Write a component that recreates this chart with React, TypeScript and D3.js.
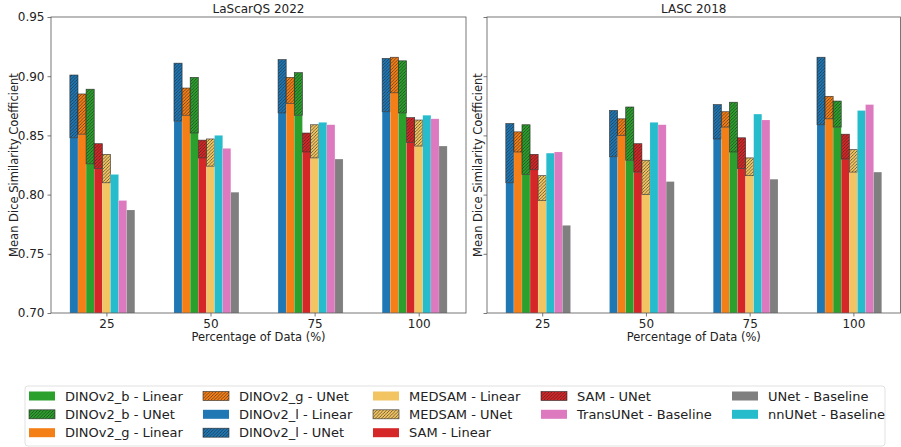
import { useEffect, useRef } from 'react';
import * as d3 from 'd3';

// x categories
const percentages = ['25', '50', '75', '100'];
const yTicks = [0.7, 0.75, 0.8, 0.85, 0.9, 0.95];

// LaScarQS 2022
const lasDinoLLinear = [0.848, 0.862, 0.869, 0.870];
const lasDinoGLinear = [0.851, 0.867, 0.877, 0.886];
const lasDinoBLinear = [0.826, 0.852, 0.867, 0.869];
const lasSamLinear = [0.822, 0.831, 0.836, 0.844];
const lasMedsamLinear = [0.810, 0.824, 0.831, 0.841];
const lasDinoLUNet = [0.901, 0.911, 0.914, 0.915];
const lasDinoGUNet = [0.885, 0.890, 0.899, 0.916];
const lasDinoBUNet = [0.889, 0.899, 0.903, 0.913];
const lasSamUNet = [0.843, 0.846, 0.852, 0.865];
const lasMedsamUNet = [0.834, 0.847, 0.859, 0.863];
const lasNnUNet = [0.817, 0.850, 0.861, 0.867];
const lasTransUNet = [0.795, 0.839, 0.859, 0.864];
const lasUNet = [0.787, 0.802, 0.830, 0.841];

// LASC 2018
const lascDinoLLinear = [0.810, 0.832, 0.847, 0.859];
const lascDinoGLinear = [0.836, 0.850, 0.857, 0.864];
const lascDinoBLinear = [0.817, 0.829, 0.836, 0.857];
const lascSamLinear = [0.821, 0.819, 0.822, 0.830];
const lascMedsamLinear = [0.795, 0.800, 0.816, 0.819];
const lascDinoLUNet = [0.860, 0.871, 0.876, 0.916];
const lascDinoGUNet = [0.853, 0.864, 0.870, 0.883];
const lascDinoBUNet = [0.859, 0.874, 0.878, 0.879];
const lascSamUNet = [0.834, 0.843, 0.848, 0.851];
const lascMedsamUNet = [0.816, 0.829, 0.831, 0.838];
const lascNnUNet = [0.835, 0.861, 0.868, 0.871];
const lascTransUNet = [0.836, 0.859, 0.863, 0.876];
const lascUNet = [0.774, 0.811, 0.813, 0.819];

const colors = {
  l: '#1f77b4',
  g: '#f57f17',
  b: '#2ca02c',
  sam: '#d62728',
  medsam: '#f2c462',
  nn: '#26bccc',
  trans: '#dd79bf',
  unet: '#7f7f7f',
};

const legendItems = [
  { label: 'DINOv2_b - Linear', color: colors.b, hatch: false },
  { label: 'DINOv2_b - UNet', color: colors.b, hatch: true },
  { label: 'DINOv2_g - Linear', color: colors.g, hatch: false },
  { label: 'DINOv2_g - UNet', color: colors.g, hatch: true },
  { label: 'DINOv2_l - Linear', color: colors.l, hatch: false },
  { label: 'DINOv2_l - UNet', color: colors.l, hatch: true },
  { label: 'MEDSAM - Linear', color: colors.medsam, hatch: false },
  { label: 'MEDSAM - UNet', color: colors.medsam, hatch: true },
  { label: 'SAM - Linear', color: colors.sam, hatch: false },
  { label: 'SAM - UNet', color: colors.sam, hatch: true },
  { label: 'TransUNet - Baseline', color: colors.trans, hatch: false },
  { label: 'UNet - Baseline', color: colors.unet, hatch: false },
  { label: 'nnUNet - Baseline', color: colors.nn, hatch: false },
];
// items per legend column (matplotlib ncol=5 fill)
const legendColumnSizes = [3, 3, 3, 2, 2];

const FONT = 'DejaVu Sans, sans-serif';

const App = () => {
  const ref = useRef<SVGSVGElement>(null);

  useEffect(() => {
    if (!ref.current) return;
    const svg = d3.select(ref.current);
    svg.selectAll('*').remove();

    const panels = [
      {
        title: 'LaScarQS 2022', left: 51, right: 466, showLabels: true, labelX: 14,
        stacked: [
          { color: colors.l, lin: lasDinoLLinear, unet: lasDinoLUNet },
          { color: colors.g, lin: lasDinoGLinear, unet: lasDinoGUNet },
          { color: colors.b, lin: lasDinoBLinear, unet: lasDinoBUNet },
          { color: colors.sam, lin: lasSamLinear, unet: lasSamUNet },
          { color: colors.medsam, lin: lasMedsamLinear, unet: lasMedsamUNet },
        ],
        baselines: [
          { color: colors.nn, vals: lasNnUNet },
          { color: colors.trans, vals: lasTransUNet },
          { color: colors.unet, vals: lasUNet },
        ],
      },
      {
        title: 'LASC 2018', left: 487, right: 900.5, showLabels: false, labelX: 478,
        stacked: [
          { color: colors.l, lin: lascDinoLLinear, unet: lascDinoLUNet },
          { color: colors.g, lin: lascDinoGLinear, unet: lascDinoGUNet },
          { color: colors.b, lin: lascDinoBLinear, unet: lascDinoBUNet },
          { color: colors.sam, lin: lascSamLinear, unet: lascSamUNet },
          { color: colors.medsam, lin: lascMedsamLinear, unet: lascMedsamUNet },
        ],
        baselines: [
          { color: colors.nn, vals: lascNnUNet },
          { color: colors.trans, vals: lascTransUNet },
          { color: colors.unet, vals: lascUNet },
        ],
      },
    ];

    // hatch patterns
    const defs = svg.append('defs');
    Object.entries(colors).forEach(([k, c]) => {
      const p = defs.append('pattern')
        .attr('id', `hatch-${k}`)
        .attr('patternUnits', 'userSpaceOnUse')
        .attr('width', 3.2)
        .attr('height', 3.2);
      p.append('rect').attr('width', 3.2).attr('height', 3.2).attr('fill', c);
      p.append('path')
        .attr('d', 'M-0.8,0.8 L0.8,-0.8 M0,3.2 L3.2,0 M2.4,4 L4,2.4')
        .attr('stroke', '#222')
        .attr('stroke-width', 0.7)
        .attr('stroke-opacity', 0.85);
    });

    const top = 17;
    const bottom = 313;
    const w = 0.078;
    const span = 3 + 8 * w;
    const xmin = -4.5 * w - 0.05 * span;
    const xmax = 3 + 3.5 * w + 0.05 * span;

    const y = d3.scaleLinear().domain([0.7, 0.95]).range([bottom, top]);

    panels.forEach(panel => {
      const x = d3.scaleLinear().domain([xmin, xmax]).range([panel.left, panel.right]);
      const bw = x(w) - x(0);
      const g = svg.append('g');
      const barX = (i: number, j: number) => x(i + (j - 4.5) * w);

      // stacked: solid linear + hatched unet on top
      panel.stacked.forEach((s, j) => {
        const key = Object.keys(colors).find(k => (colors as any)[k] === s.color);
        percentages.forEach((_, i) => {
          g.append('rect')
            .attr('x', barX(i, j))
            .attr('y', y(s.lin[i]))
            .attr('width', bw)
            .attr('height', y(0.7) - y(s.lin[i]))
            .attr('fill', s.color)
            .attr('stroke', '#ffffff')
            .attr('stroke-opacity', 0.25)
            .attr('stroke-width', 0.5);
          g.append('rect')
            .attr('x', barX(i, j))
            .attr('y', y(s.unet[i]))
            .attr('width', bw)
            .attr('height', y(s.lin[i]) - y(s.unet[i]))
            .attr('fill', `url(#hatch-${key})`)
            .attr('stroke', '#222')
            .attr('stroke-opacity', 0.8)
            .attr('stroke-width', 0.7);
        });
      });

      panel.baselines.forEach((b, k) => {
        const j = 5 + k;
        percentages.forEach((_, i) => {
          g.append('rect')
            .attr('x', barX(i, j))
            .attr('y', y(b.vals[i]))
            .attr('width', bw)
            .attr('height', y(0.7) - y(b.vals[i]))
            .attr('fill', b.color)
            .attr('stroke', '#ffffff')
            .attr('stroke-opacity', 0.25)
            .attr('stroke-width', 0.5);
        });
      });

      // frame
      g.append('rect')
        .attr('x', panel.left)
        .attr('y', top)
        .attr('width', panel.right - panel.left)
        .attr('height', bottom - top)
        .attr('fill', 'none')
        .attr('stroke', '#555')
        .attr('stroke-width', 0.8);

      // y ticks
      const yAxis = g.append('g')
        .attr('transform', `translate(${panel.left},0)`)
        .call(d3.axisLeft(y).tickValues(yTicks).tickSize(3.5).tickPadding(3)
          .tickFormat(d => (panel.showLabels ? d3.format('.2f')(d as number) : '')));
      yAxis.select('.domain').remove();
      yAxis.selectAll('line').attr('stroke', '#555').attr('stroke-width', 0.8);
      yAxis.selectAll('text').attr('font-family', FONT).attr('font-size', 12).attr('fill', '#222');

      // x ticks
      const xAxis = g.append('g')
        .attr('transform', `translate(0,${bottom})`)
        .call(d3.axisBottom(x).tickValues([0, 1, 2, 3]).tickSize(3.5).tickPadding(3)
          .tickFormat(d => percentages[d as number]));
      xAxis.select('.domain').remove();
      xAxis.selectAll('line').attr('stroke', '#555').attr('stroke-width', 0.8);
      xAxis.selectAll('text').attr('font-family', FONT).attr('font-size', 12).attr('fill', '#222');

      const cx = (panel.left + panel.right) / 2;
      g.append('text')
        .attr('x', cx).attr('y', 13)
        .attr('text-anchor', 'middle')
        .attr('font-family', FONT).attr('font-size', 12).attr('fill', '#222')
        .text(panel.title);
      g.append('text')
        .attr('x', cx).attr('y', 341)
        .attr('text-anchor', 'middle')
        .attr('font-family', FONT).attr('font-size', 11.5).attr('fill', '#222')
        .text('Percentage of Data (%)');
      g.append('text')
        .attr('transform', `translate(${panel.labelX},${(top + bottom) / 2}) rotate(-90)`)
        .attr('dy', '0.35em')
        .attr('text-anchor', 'middle')
        .attr('font-family', FONT).attr('font-size', 11.5).attr('fill', '#222')
        .text('Mean Dice Similarity Coefficient');
    });

    // legend
    const lg = svg.append('g');
    lg.append('rect')
      .attr('x', 25).attr('y', 386)
      .attr('width', 860).attr('height', 60)
      .attr('rx', 3)
      .attr('fill', '#fff')
      .attr('stroke', '#d9d9d9')
      .attr('stroke-width', 0.8);
    const colX = [29, 203, 373, 541, 732];
    const rowY = [396, 414.3, 432.7];
    let idx = 0;
    legendColumnSizes.forEach((size, col) => {
      for (let row = 0; row < size; row++) {
        const item = legendItems[idx++];
        const px = colX[col];
        const py = rowY[row];
        const key = Object.keys(colors).find(k => (colors as any)[k] === item.color);
        lg.append('rect')
          .attr('x', px).attr('y', py - 4.5)
          .attr('width', 26).attr('height', 9)
          .attr('fill', item.hatch ? `url(#hatch-${key})` : item.color)
          .attr('stroke', item.hatch ? '#222' : 'none')
          .attr('stroke-opacity', 0.8)
          .attr('stroke-width', 0.7);
        lg.append('text')
          .attr('x', px + 36).attr('y', py)
          .attr('dy', '0.36em')
          .attr('font-family', FONT).attr('font-size', 13).attr('fill', '#222')
          .text(item.label);
      }
    });
  }, []);

  return (
    <svg
      ref={ref}
      width={901}
      height={447}
      style={{ position: 'absolute', left: 0, top: 0, background: '#fff' }}
    />
  );
};

export default App;
